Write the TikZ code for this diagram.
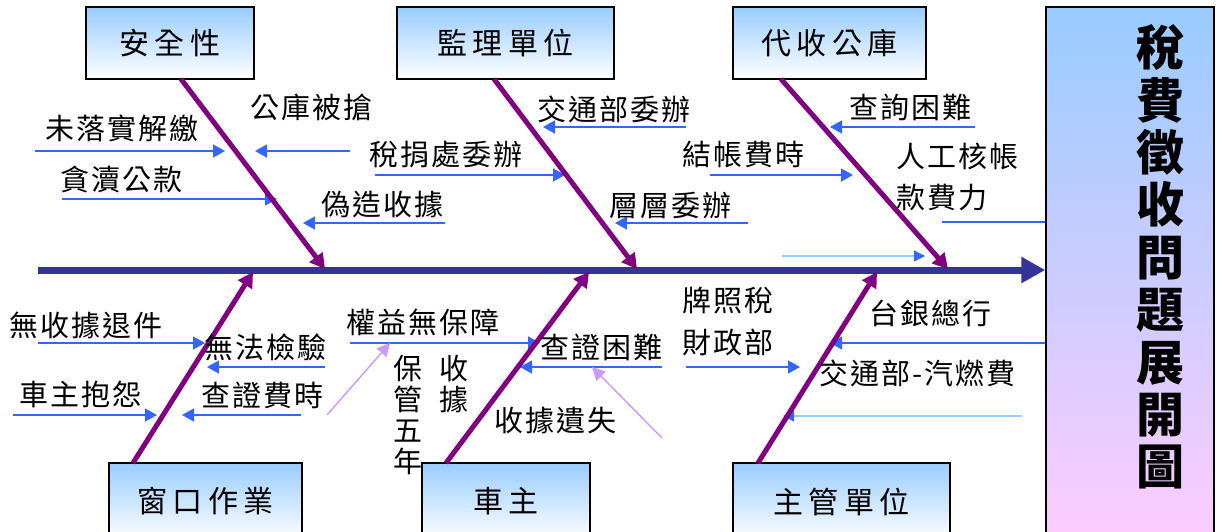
\documentclass[tikz,border=0pt]{standalone}
\usepackage{fontspec}
\setmainfont{Noto Sans CJK TC}
\newfontfamily\labfont[LetterSpace=7]{Noto Sans CJK TC}
\newfontfamily\boxfont[LetterSpace=17]{Noto Sans CJK TC}
\usetikzlibrary{arrows.meta}
\definecolor{boxblue}{HTML}{99CCFF}
\definecolor{boxpink}{HTML}{FFCCFF}
\definecolor{spinec}{HTML}{333399}
\definecolor{bonec}{HTML}{800080}
\definecolor{subc}{HTML}{3366FF}
\definecolor{palec}{HTML}{99CCFF}
\definecolor{lilac}{HTML}{CC99FF}
\tikzset{
  catbox/.style={draw=black, line width=1.5pt, top color=boxblue, bottom color=white,
    minimum width=#1, inner sep=0, font=\boxfont\fontsize{30}{34}\selectfont},
  titlebox/.style={draw=black, line width=1.5pt, top color=boxblue, bottom color=boxpink,
    minimum width=168, minimum height=540, inner sep=0},
  spineline/.style={draw=spinec, line width=7pt, -{Triangle[length=24pt,width=25pt,color=spinec]}},
  bone/.style={draw=bonec, line width=5pt, -{Triangle[length=15pt,width=16pt,color=bonec]}},
  sub/.style={draw=subc, line width=1.6pt, -{Triangle[length=12pt,width=13pt,color=subc]}},
  subline/.style={draw=subc, line width=1.6pt},
  pale/.style={draw=palec, line width=1.2pt, -{Triangle[length=11pt,width=11pt,color=subc]}},
  lil/.style={draw=lilac, line width=1.4pt, -{Triangle[length=13pt,width=13pt,color=lilac]}},
  lab/.style={anchor=west, inner sep=0, font=\labfont\fontsize{29}{31}\selectfont},
  vlab/.style={anchor=north, inner sep=0, align=center, font=\fontsize{29}{31}\selectfont},
}
\begin{document}
\begin{tikzpicture}[x=1pt,y=-1pt]
\useasboundingbox (0,0) rectangle (1222,532);
\clip (0,0) rectangle (1222,532);
\fill[white] (0,0) rectangle (1222,532);

% category boxes
\node[catbox=168, minimum height=72] (b1) at (170,43) {安全性};
\node[catbox=217, minimum height=72] (b2) at (505.5,43) {監理單位};
\node[catbox=193, minimum height=72] (b3) at (829.5,43) {代收公庫};
\node[catbox=193, minimum height=77] (b4) at (205.5,501.5) {窗口作業};
\node[catbox=168, minimum height=77] (b5) at (506,501.5) {車主};
\node[catbox=217, minimum height=77] (b6) at (841.5,501.5) {主管單位};

% title box
\node[titlebox] (T) at (1130,277) {};
\node[inner sep=0, align=center, font=\bfseries\fontsize{48}{52.4}\selectfont] (title) at (1160,257)
  {稅\\費\\徵\\收\\問\\題\\展\\開\\圖};

% spine
\coordinate (sp0) at (38,270);
\draw[spineline] (sp0) -- (sp0 -| T.west);

% sub arrows
\coordinate (u1a) at (35,151);   \coordinate (u1b) at (225,151);
\coordinate (u2a) at (350,151);  \coordinate (u2b) at (255,151);
\coordinate (u3a) at (62,199);   \coordinate (u3b) at (277,199);
\coordinate (u4a) at (445,223);  \coordinate (u4b) at (303,223);
\coordinate (u5a) at (375,175);  \coordinate (u5b) at (565,175);
\coordinate (u6a) at (686,127);  \coordinate (u6b) at (543,127);
\coordinate (u7a) at (748,223);  \coordinate (u7b) at (615,223);
\coordinate (u8a) at (710,175);  \coordinate (u8b) at (853,175);
\coordinate (u9a) at (975,127);  \coordinate (u9b) at (830,127);
\coordinate (u10a) at (942,222);
\coordinate (u11a) at (782,256); \coordinate (u11b) at (925,256);
\coordinate (u12a) at (38,343);  \coordinate (u12b) at (205,343);
\coordinate (u13a) at (325,367); \coordinate (u13b) at (207,367);
\coordinate (u14a) at (13,415);  \coordinate (u14b) at (157,415);
\coordinate (u15a) at (301,415); \coordinate (u15b) at (182,415);
\coordinate (u16a) at (350,343); \coordinate (u16b) at (540,343);
\coordinate (u17a) at (327,415); \coordinate (u17b) at (390,343);
\coordinate (u18a) at (662,367); \coordinate (u18b) at (520,367);
\coordinate (u19a) at (662,438); \coordinate (u19b) at (592,367);
\coordinate (u20a) at (686,367); \coordinate (u20b) at (800,367);
\coordinate (u21b) at (830,343);
\coordinate (u22a) at (1022,416); \coordinate (u22b) at (783,416);

\draw[sub] (u1a) -- (u1b);
\draw[sub] (u2a) -- (u2b);
\draw[sub] (u3a) -- (u3b);
\draw[sub] (u4a) -- (u4b);
\draw[sub] (u5a) -- (u5b);
\draw[sub] (u6a) -- (u6b);
\draw[sub] (u7a) -- (u7b);
\draw[sub] (u8a) -- (u8b);
\draw[sub] (u9a) -- (u9b);
\draw[subline] (u10a) -- (u10a -| T.west);
\draw[pale] (u11a) -- (u11b);
\draw[sub] (u12a) -- (u12b);
\draw[sub] (u13a) -- (u13b);
\draw[sub] (u14a) -- (u14b);
\draw[sub] (u15a) -- (u15b);
\draw[sub] (u16a) -- (u16b);
\draw[lil] (u17a) -- (u17b);
\draw[sub] (u18a) -- (u18b);
\draw[lil] (u19a) -- (u19b);
\draw[sub] (u20a) -- (u20b);
\draw[sub] (u21b -| T.west) -- (u21b);
\draw[pale] (u22a) -- (u22b);

% bones
\coordinate (s1) at (181,79);  \coordinate (e1) at (325,269);
\coordinate (s2) at (494,79);  \coordinate (e2) at (637,269);
\coordinate (s3) at (781,79);  \coordinate (e3) at (948,269);
\coordinate (s4) at (133,463); \coordinate (e4) at (253,272);
\coordinate (s5) at (446,463); \coordinate (e5) at (589,272);
\coordinate (s6) at (758,463); \coordinate (e6) at (877,272);
\draw[bone] (s1) -- (e1);
\draw[bone] (s2) -- (e2);
\draw[bone] (s3) -- (e3);
\draw[bone] (s4) -- (e4);
\draw[bone] (s5) -- (e5);
\draw[bone] (s6) -- (e6);

% labels
\node[lab] (l1) at (45,128) {未落實解繳};
\node[lab] (l2) at (250,107) {公庫被搶};
\node[lab] (l3) at (60,180) {貪瀆公款};
\node[lab] (l4) at (321,205) {偽造收據};
\node[lab] (l5) at (369,155) {稅捐處委辦};
\node[lab] (l6) at (537,109) {交通部委辦};
\node[lab] (l7) at (609,206) {層層委辦};
\node[lab] (l8) at (682,155) {結帳費時};
\node[lab] (l9) at (849,107) {查詢困難};
\node[lab] (l10) at (896,157) {人工核帳};
\node[lab] (l11) at (896,198) {款費力};
\node[lab] (l12) at (9,325) {無收據退件};
\node[lab] (l13) at (204,347) {無法檢驗};
\node[lab] (l14) at (19,394) {車主抱怨};
\node[lab] (l15) at (201,395) {查證費時};
\node[lab] (l16) at (346,322) {權益無保障};
\node[lab] (l17) at (540,347) {查證困難};
\node[lab] (l18) at (494,421) {收據遺失};
\node[lab] (l19) at (682,301) {牌照稅};
\node[lab] (l20) at (682,342) {財政部};
\node[lab] (l21) at (869,313) {台銀總行};
\node[lab] (l22) at (819,373) {交通部-汽燃費};
\node[vlab] (v1) at (408,355) {保\\管\\五\\年};
\node[vlab] (v2) at (454,355) {收\\據};
\end{tikzpicture}
\end{document}
